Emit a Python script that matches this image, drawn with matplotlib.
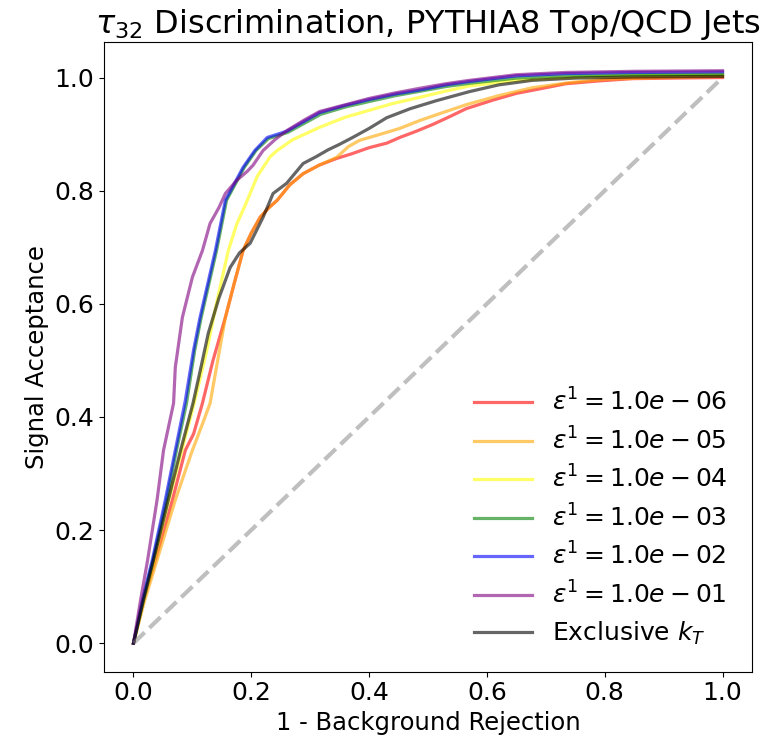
import matplotlib
matplotlib.use("Agg")
import matplotlib.pyplot as plt
import numpy as np

# ROC curves (x = 1 - background rejection, y = signal acceptance)
x_e6 = [0.0, 0.017, 0.037, 0.066, 0.088, 0.102, 0.117, 0.135, 0.156, 0.172, 0.186, 0.2, 0.215, 0.23, 0.244, 0.265, 0.288, 0.315, 0.345, 0.37, 0.40, 0.43, 0.452, 0.48, 0.508, 0.535, 0.565, 0.61, 0.65, 0.69, 0.734, 0.79, 0.846, 0.92, 1.0]
y_e6 = [0.0, 0.076, 0.147, 0.253, 0.341, 0.37, 0.424, 0.5, 0.576, 0.64, 0.694, 0.725, 0.753, 0.77, 0.783, 0.81, 0.83, 0.845, 0.857, 0.865, 0.876, 0.884, 0.894, 0.905, 0.917, 0.93, 0.945, 0.96, 0.972, 0.98, 0.989, 0.994, 0.998, 0.999, 1.0]

x_e5 = [0.0, 0.018, 0.04, 0.071, 0.09, 0.1, 0.118, 0.13, 0.143, 0.156, 0.172, 0.186, 0.2, 0.215, 0.23, 0.244, 0.265, 0.288, 0.315, 0.345, 0.365, 0.384, 0.42, 0.452, 0.486, 0.525, 0.565, 0.62, 0.677, 0.74, 0.8, 0.9, 1.0]
y_e5 = [0.0, 0.072, 0.147, 0.253, 0.311, 0.341, 0.39, 0.424, 0.5, 0.576, 0.64, 0.694, 0.725, 0.753, 0.77, 0.783, 0.81, 0.83, 0.845, 0.859, 0.878, 0.889, 0.9, 0.91, 0.924, 0.938, 0.952, 0.968, 0.982, 0.991, 0.997, 1.0, 1.002]

x_e4 = [0.0, 0.017, 0.035, 0.06, 0.082, 0.103, 0.125, 0.142, 0.161, 0.175, 0.19, 0.21, 0.232, 0.244, 0.27, 0.316, 0.36, 0.40, 0.44, 0.486, 0.53, 0.57, 0.61, 0.65, 0.72, 0.8, 0.9, 1.0]
y_e4 = [0.0, 0.076, 0.147, 0.253, 0.341, 0.424, 0.52, 0.606, 0.694, 0.74, 0.775, 0.825, 0.86, 0.871, 0.89, 0.912, 0.93, 0.942, 0.954, 0.965, 0.976, 0.985, 0.99, 0.995, 0.999, 1.002, 1.004, 1.005]

x_e3 = [0.0, 0.016, 0.033, 0.056, 0.073, 0.09, 0.104, 0.115, 0.141, 0.158, 0.188, 0.208, 0.229, 0.262, 0.318, 0.36, 0.402, 0.445, 0.488, 0.53, 0.572, 0.65, 0.735, 0.85, 1.0]
y_e3 = [0.0, 0.076, 0.147, 0.253, 0.341, 0.424, 0.518, 0.576, 0.694, 0.783, 0.841, 0.871, 0.892, 0.903, 0.935, 0.948, 0.958, 0.968, 0.976, 0.984, 0.99, 0.999, 1.003, 1.005, 1.006]

x_e2 = [0.0, 0.015, 0.032, 0.054, 0.071, 0.088, 0.102, 0.113, 0.139, 0.156, 0.186, 0.206, 0.227, 0.26, 0.316, 0.36, 0.40, 0.445, 0.486, 0.53, 0.57, 0.65, 0.734, 0.85, 1.0]
y_e2 = [0.0, 0.076, 0.147, 0.253, 0.341, 0.429, 0.518, 0.576, 0.694, 0.783, 0.841, 0.871, 0.894, 0.905, 0.938, 0.951, 0.961, 0.971, 0.978, 0.987, 0.993, 1.003, 1.007, 1.009, 1.01]

x_e1 = [0.0, 0.012, 0.024, 0.04, 0.051, 0.068, 0.071, 0.083, 0.1, 0.117, 0.13, 0.145, 0.156, 0.175, 0.193, 0.203, 0.22, 0.24, 0.26, 0.29, 0.316, 0.36, 0.40, 0.445, 0.486, 0.53, 0.57, 0.65, 0.734, 0.85, 1.0]
y_e1 = [0.0, 0.076, 0.147, 0.253, 0.341, 0.424, 0.488, 0.576, 0.647, 0.694, 0.742, 0.77, 0.795, 0.818, 0.834, 0.845, 0.871, 0.89, 0.906, 0.925, 0.94, 0.952, 0.963, 0.973, 0.981, 0.989, 0.995, 1.005, 1.009, 1.011, 1.012]

x_kt = [0.0, 0.017, 0.034, 0.059, 0.08, 0.101, 0.115, 0.127, 0.145, 0.164, 0.18, 0.198, 0.22, 0.237, 0.26, 0.288, 0.31, 0.33, 0.35, 0.372, 0.40, 0.43, 0.47, 0.514, 0.57, 0.62, 0.677, 0.75, 0.85, 1.0]
y_kt = [0.0, 0.076, 0.147, 0.253, 0.341, 0.424, 0.49, 0.548, 0.61, 0.664, 0.69, 0.707, 0.753, 0.795, 0.813, 0.848, 0.86, 0.872, 0.882, 0.894, 0.91, 0.929, 0.945, 0.959, 0.975, 0.987, 0.995, 0.999, 1.001, 1.002]

labels = [r"$\varepsilon^1 = 1.0e-06$", r"$\varepsilon^1 = 1.0e-05$", r"$\varepsilon^1 = 1.0e-04$",
          r"$\varepsilon^1 = 1.0e-03$", r"$\varepsilon^1 = 1.0e-02$", r"$\varepsilon^1 = 1.0e-01$",
          r"Exclusive $k_T$"]
colors = ["red", "orange", "yellow", "green", "blue", "purple", "black"]
xs = [x_e6, x_e5, x_e4, x_e3, x_e2, x_e1, x_kt]
ys = [y_e6, y_e5, y_e4, y_e3, y_e2, y_e1, y_kt]

plt.rcParams["font.family"] = ["DejaVu Sans"]
fig = plt.figure(figsize=(7.65, 7.39), dpi=100)
ax = fig.add_axes([0.136, 0.091, 0.847, 0.852])

for x, y, c, lab in zip(xs, ys, colors, labels):
    ax.plot(x, y, color=c, alpha=0.6, lw=2.3, label=lab)
ax.plot([0, 1], [0, 1], color="gray", alpha=0.5, lw=3, ls="--")

ax.set_title(r"$\tau_{32}$ Discrimination, PYTHIA8 Top/QCD Jets", fontsize=23)
ax.set_xlabel("1 - Background Rejection", fontsize=17.5)
ax.set_ylabel("Signal Acceptance", fontsize=17.5)
ax.tick_params(labelsize=18)
ax.set_xticks([0, 0.2, 0.4, 0.6, 0.8, 1.0])
ax.set_yticks([0, 0.2, 0.4, 0.6, 0.8, 1.0])
ax.legend(loc="lower right", fontsize=18, frameon=False, labelspacing=0.45,
          handlelength=2.3, handletextpad=0.8, borderaxespad=0.6)

fig.savefig("out.png", dpi=100)
